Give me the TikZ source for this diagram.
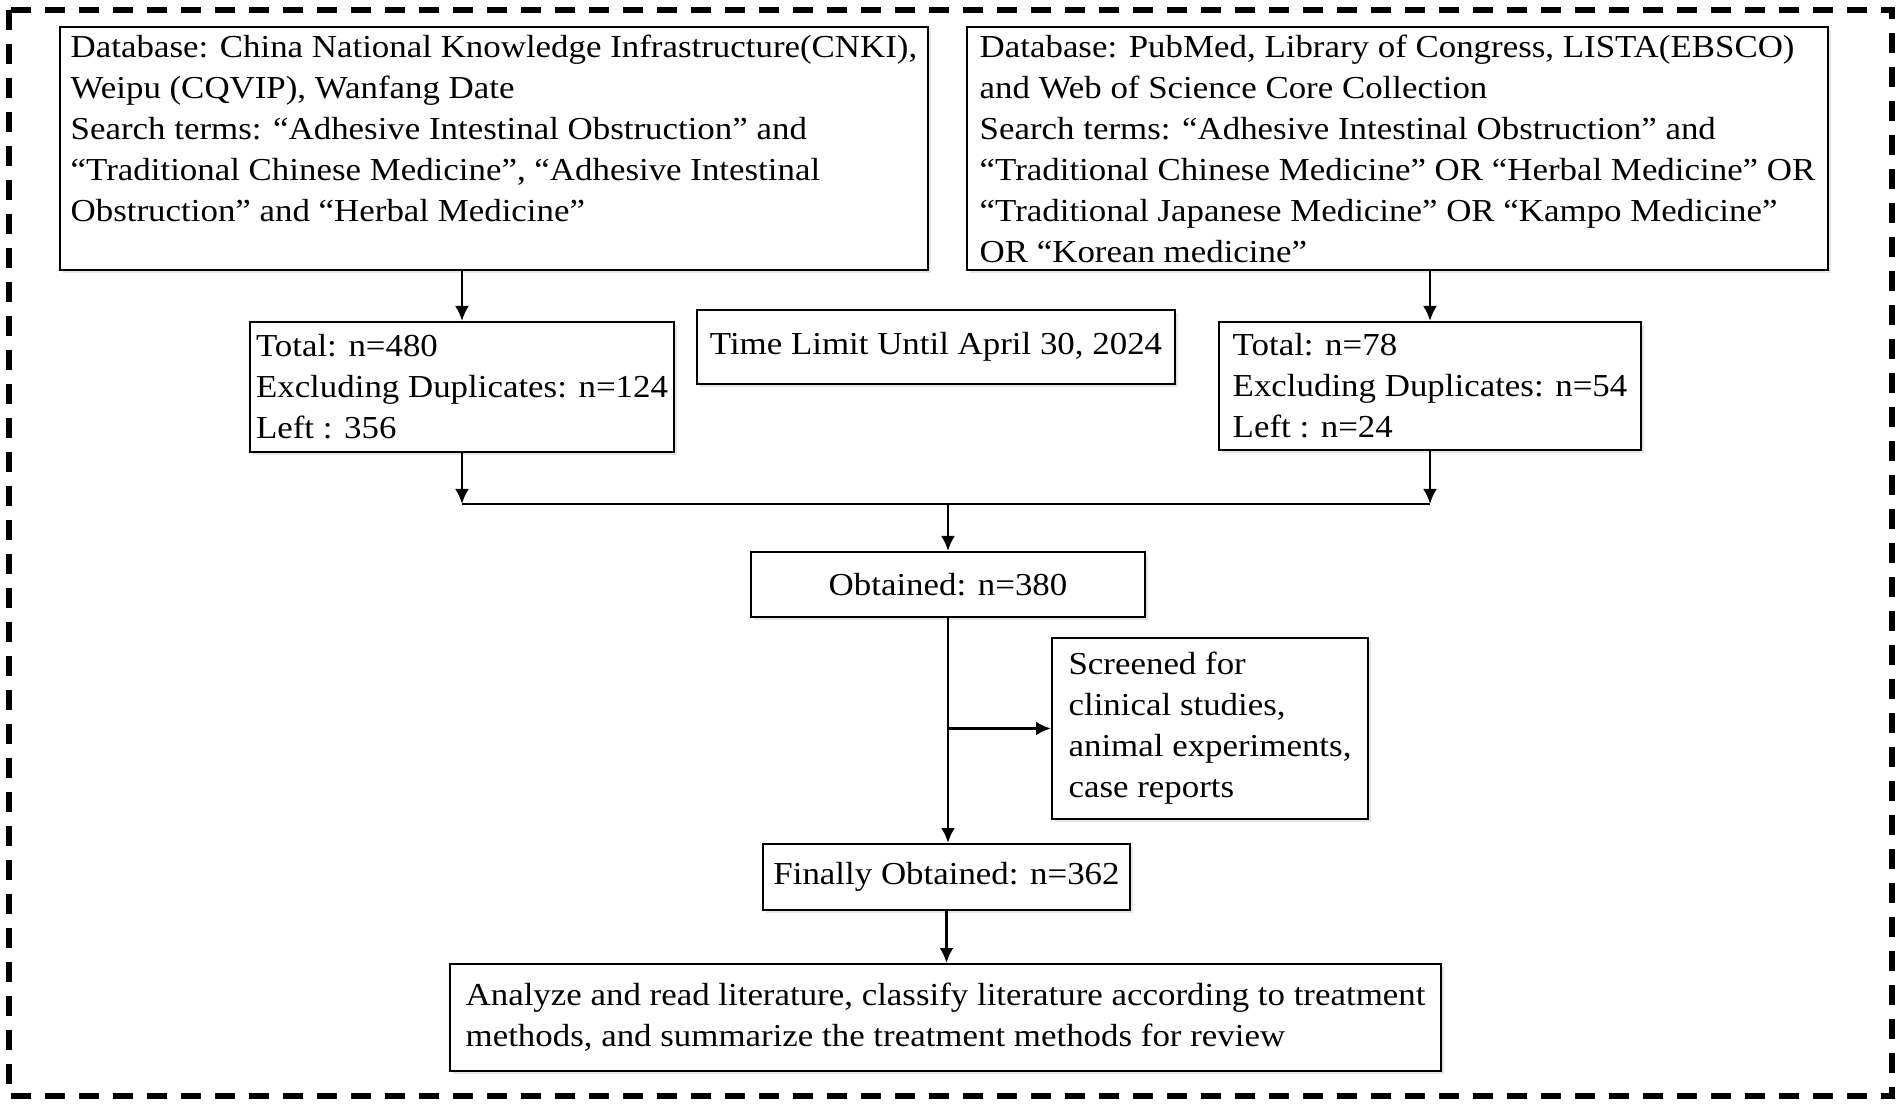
\documentclass[tikz,border=0pt]{standalone}
\usepackage{fontspec}
\setmainfont{Liberation Serif}[FakeStretch=1.09]
\usetikzlibrary{arrows.meta,shadows}

\begin{document}
\begin{tikzpicture}[x=0.5pt,y=-0.5pt,
	stage/.style={draw,line width=1pt,fill=white,anchor=north west,align=left,
		inner xsep=0pt,inner ysep=0pt,font=\fontsize{16}{20.5}\selectfont,
		drop shadow={shadow xshift=1.5pt,shadow yshift=-1.5pt,opacity=.2}},
	arr/.style={line width=1.4pt,-{Latex[length=7.5pt,width=7pt]}},
	link/.style={line width=1.4pt}]
	\useasboundingbox (0,0) rectangle (1902,1106);
	% outer frame
	\draw[line width=2.8pt,dash pattern=on 10pt off 7pt] (9,10) rectangle (1892,1096);
	% search boxes
	\node[stage,minimum width=434pt,minimum height=121.5pt] (cnki) at (59,26)
		{Database: China National Knowledge Infrastructure(CNKI),\\Weipu (CQVIP), Wanfang Date\\Search terms: “Adhesive Intestinal Obstruction” and\\“Traditional Chinese Medicine”, “Adhesive Intestinal\\Obstruction” and “Herbal Medicine”\\\mbox{}};
	\node[stage,minimum width=430.5pt,minimum height=121.5pt] (pubmed) at (966,26)
		{Database: PubMed, Library of Congress, LISTA(EBSCO)\\and Web of Science Core Collection\\Search terms: “Adhesive Intestinal Obstruction” and\\“Traditional Chinese Medicine” OR “Herbal Medicine” OR\\“Traditional Japanese Medicine” OR “Kampo Medicine”\\OR “Korean medicine”};
	% counts
	\node[stage,minimum width=212pt,minimum height=65pt] (total1) at (249,321)
		{Total: n=480\\Excluding Duplicates: n=124\\Left : 356};
	\node[stage,minimum width=239pt,minimum height=37pt] (limit) at (696,309)
		{Time Limit Until April 30, 2024};
	\node[stage,minimum width=211pt,minimum height=64pt] (total2) at (1218,321)
		{Total: n=78\\Excluding Duplicates: n=54\\Left : n=24};
	\node[stage,minimum width=197pt,minimum height=32.5pt] (obtained) at (750,551)
		{Obtained: n=380};
	\node[stage,minimum width=158pt,minimum height=90.5pt] (screened) at (1051,637)
		{Screened for\\clinical studies,\\animal experiments,\\case reports};
	\node[stage,minimum width=183.5pt,minimum height=33pt] (finally) at (762,843)
		{Finally Obtained: n=362};
	\node[stage,minimum width=495.5pt,minimum height=53.5pt] (review) at (449,963)
		{Analyze and read literature, classify literature according to treatment\\methods, and summarize the treatment methods for review};
	% connectors
	\draw[arr] (total1.north |- cnki.south) -- (total1.north);
	\draw[arr] (total2.north |- pubmed.south) -- (total2.north);
	\coordinate (mergeL) at ([yshift=-25.5pt]total1.south);
	\coordinate (mergeR) at (mergeL -| total2.south);
	\draw[arr] (total1.south) -- (mergeL);
	\draw[arr] (total2.south) -- (mergeR);
	\draw[link] (mergeL) -- (mergeR);
	\draw[arr] (mergeL -| obtained.north) -- (obtained.north);
	\draw[arr] (obtained.south) -- (obtained.south |- finally.north);
	\draw[arr] (screened.west -| obtained.south) -- (screened.west);
	\draw[arr] (finally.south) -- (finally.south |- review.north);
\end{tikzpicture}
\end{document}
